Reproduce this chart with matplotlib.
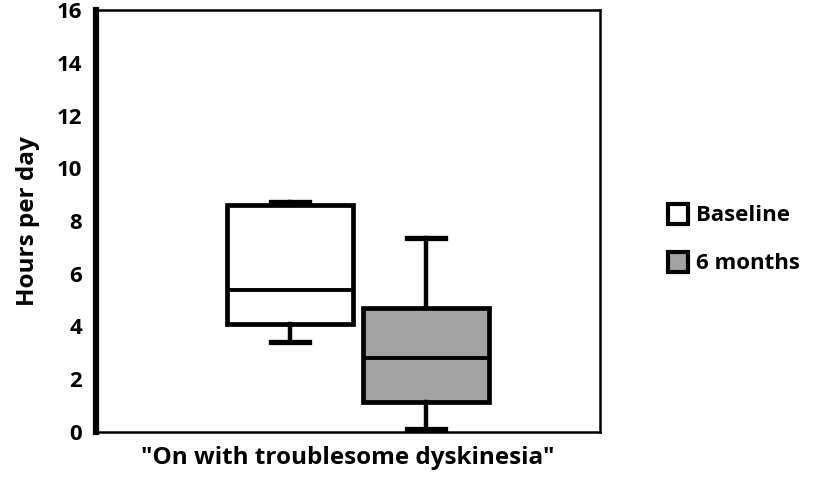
import matplotlib.pyplot as plt
from matplotlib.patches import Patch

plt.rcParams['font.family'] = ['Open Sans', 'DejaVu Sans']
plt.rcParams['font.weight'] = 'bold'

groups = ['Baseline', '6 months']
whisker_low = [3.4, 0.1]
q1 = [4.08, 1.12]
medians = [5.37, 2.8]
q3 = [8.6, 4.72]
whisker_high = [8.72, 7.35]
colors = ['white', '#a3a3a3']
y_ticks = [0, 2, 4, 6, 8, 10, 12, 14, 16]

fig = plt.figure(figsize=(8.15, 4.8), dpi=100)
ax = fig.add_axes([96 / 815, 1 - 432 / 480, 504 / 815, 422 / 480])

stats = []
for i, g in enumerate(groups):
    stats.append({'label': g, 'whislo': whisker_low[i], 'q1': q1[i], 'med': medians[i],
                  'q3': q3[i], 'whishi': whisker_high[i], 'fliers': []})

bp = ax.bxp(stats, positions=[0.385, 0.655], widths=0.25, capwidths=0.075,
            patch_artist=True, showfliers=False,
            boxprops=dict(linewidth=3.4, edgecolor='black'),
            medianprops=dict(linewidth=2.8, color='black'),
            whiskerprops=dict(linewidth=3.2, color='black'),
            capprops=dict(linewidth=3.8, color='black'))
for patch, c in zip(bp['boxes'], colors):
    patch.set_facecolor(c)

ax.set_xlim(0, 1)
ax.set_ylim(0, 16)
ax.set_yticks(y_ticks)
ax.set_yticklabels([str(t) for t in y_ticks], fontsize=16, fontweight='bold')
ax.set_xticks([])
ax.tick_params(axis='y', length=0, pad=10)
ax.spines['left'].set_linewidth(4.5)
for s in ['top', 'right', 'bottom']:
    ax.spines[s].set_linewidth(1.8)

ax.set_ylabel('Hours per day', fontsize=17.5, fontweight='bold', labelpad=12)
ax.set_xlabel('"On with troublesome dyskinesia"', fontsize=17.5, fontweight='bold', labelpad=10)

handles = [Patch(facecolor=c, edgecolor='black', linewidth=3) for c in colors]
fig.legend(handles, groups, loc='center left', bbox_to_anchor=(668 / 815, 1 - 239 / 480),
           frameon=False, prop={'size': 16, 'weight': 'bold'}, borderpad=0, borderaxespad=0,
           handlelength=0.9, handleheight=1.0, handletextpad=0.35, labelspacing=1.15)

fig.savefig('out.png', dpi=100)
